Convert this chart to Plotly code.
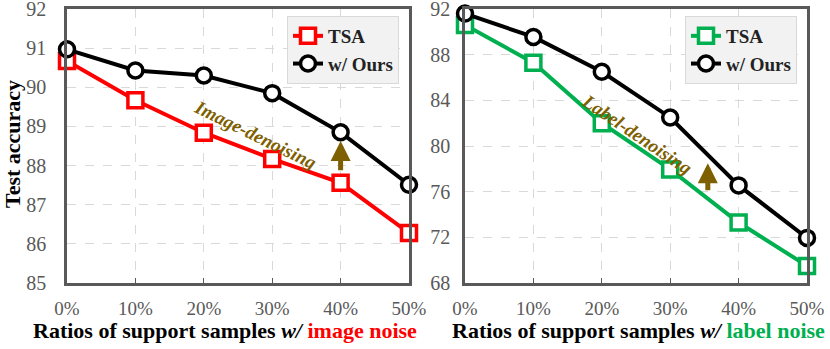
import plotly.graph_objects as go

RATIOS = [0, 10, 20, 30, 40, 50]
RATIO_LABELS = ['0%', '10%', '20%', '30%', '40%', '50%']
IMG_TSA = [90.67, 89.67, 88.84, 88.17, 87.56, 86.28]
IMG_OURS = [90.97, 90.43, 90.30, 89.85, 88.85, 87.51]
LBL_TSA = [90.6, 87.3, 82.0, 77.95, 73.3, 69.5]
LBL_OURS = [91.6, 89.55, 86.5, 82.5, 76.55, 71.95]

FONT = 'Liberation Serif'
AXIS_COLOUR = '#595959'
GRID_COLOUR = '#d9d9d9'
ARROW_COLOUR = '#7f6000'
RED = '#ff0000'
GREEN = '#00b050'

fig = go.Figure()


def add_series(x, y, colour, symbol, name, xa, ya, legend):
    fig.add_trace(go.Scatter(
        x=x, y=y, name=name, mode='lines+markers',
        line={'color': colour, 'width': 4},
        marker={'symbol': symbol, 'size': 15, 'color': 'white',
                'line': {'color': colour, 'width': 3.5}},
        xaxis=xa, yaxis=ya, legend=legend, cliponaxis=False))


add_series(RATIOS, IMG_TSA, RED, 'square', 'TSA', 'x', 'y', 'legend')
add_series(RATIOS, IMG_OURS, 'black', 'circle', 'w/ Ours', 'x', 'y', 'legend')
add_series(RATIOS, LBL_TSA, GREEN, 'square', 'TSA', 'x2', 'y2', 'legend2')
add_series(RATIOS, LBL_OURS, 'black', 'circle', 'w/ Ours', 'x2', 'y2', 'legend2')

axis_common = dict(
    showline=True, linecolor=AXIS_COLOUR, linewidth=2.5, mirror=True,
    showgrid=True, gridcolor=GRID_COLOUR, griddash='dash', gridwidth=1,
    zeroline=False, ticklabeloverflow='allow', automargin=False,
    tickfont={'family': FONT, 'size': 20, 'color': AXIS_COLOUR},
)
xaxis_common = dict(
    axis_common, range=[0, 50], tickmode='array', tickvals=RATIOS, ticktext=RATIO_LABELS,
    ticks='inside', ticklen=5, tickcolor=AXIS_COLOUR, ticklabelstandoff=6,
    tickfont={'family': FONT, 'size': 19, 'color': AXIS_COLOUR},
)
y_domain = [1 - 283 / 349, 1 - 9 / 349]

legend_common = dict(
    bgcolor='#f2f2f2', bordercolor='#d9d9d9', borderwidth=1,
    font={'family': FONT, 'size': 19, 'color': '#222222', 'weight': 'bold'},
    xanchor='right', yanchor='top', tracegroupgap=0, itemwidth=30,
)

fig.update_layout(
    width=830, height=349,
    margin={'l': 0, 'r': 0, 't': 0, 'b': 0, 'autoexpand': False},
    paper_bgcolor='white', plot_bgcolor='white',
    font={'family': FONT},
    xaxis=dict(xaxis_common, domain=[67 / 830, 409 / 830], anchor='y'),
    yaxis=dict(axis_common, domain=y_domain, range=[85, 92], dtick=1,
               ticklabelstandoff=14, anchor='x'),
    xaxis2=dict(xaxis_common, domain=[465 / 830, 807 / 830], anchor='y2'),
    yaxis2=dict(axis_common, domain=y_domain, range=[68, 92], dtick=4,
                ticklabelstandoff=8, anchor='x2'),
    legend=dict(legend_common, x=399 / 830, y=1 - 16 / 349),
    legend2=dict(legend_common, x=797 / 830, y=1 - 16 / 349),
)

# axis titles
fig.add_annotation(text='<b>Test accuracy</b>', textangle=-90, xref='paper', yref='paper',
                   x=12 / 830, y=1 - 144 / 349, xanchor='center', yanchor='middle',
                   showarrow=False, borderpad=0,
                   font={'family': FONT, 'size': 22, 'color': 'black'})
fig.add_annotation(text="<b>Ratios of support samples <i>w/</i> <span style='color:#ff0000'>image noise</span></b>",
                   xref='paper', yref='paper', x=225 / 830, y=1 - 330 / 349,
                   xanchor='center', yanchor='middle', showarrow=False,
                   font={'family': FONT, 'size': 22, 'color': 'black'})
fig.add_annotation(text="<b>Ratios of support samples <i>w/</i> <span style='color:#00b050'>label noise</span></b>",
                   xref='paper', yref='paper', x=638 / 830, y=1 - 330 / 349,
                   xanchor='center', yanchor='middle', showarrow=False,
                   font={'family': FONT, 'size': 22, 'color': 'black'})

# denoising labels and arrows
fig.add_annotation(text='<b><i>Image-denoising</i></b>', textangle=26, xref='x', yref='y',
                   x=27.5, y=88.8, showarrow=False,
                   font={'family': FONT, 'size': 19, 'color': ARROW_COLOUR})
fig.add_annotation(text='<b><i>Label-denoising</i></b>', textangle=34, xref='x2', yref='y2',
                   x=25.2, y=81.0, showarrow=False,
                   font={'family': FONT, 'size': 19, 'color': ARROW_COLOUR})
fig.add_annotation(text='', xref='x', yref='y', axref='x', ayref='y',
                   x=40, y=88.63, ax=40, ay=87.84, showarrow=True,
                   arrowhead=2, arrowsize=0.8, arrowwidth=5, arrowcolor=ARROW_COLOUR)
fig.add_annotation(text='', xref='x2', yref='y2', axref='x2', ayref='y2',
                   x=35.5, y=78.5, ax=35.5, ay=76.0, showarrow=True,
                   arrowhead=2, arrowsize=0.8, arrowwidth=5, arrowcolor=ARROW_COLOUR)

fig.write_html('out.html', config={'displayModeBar': False},
               post_script="document.body.style.margin='0px';")
